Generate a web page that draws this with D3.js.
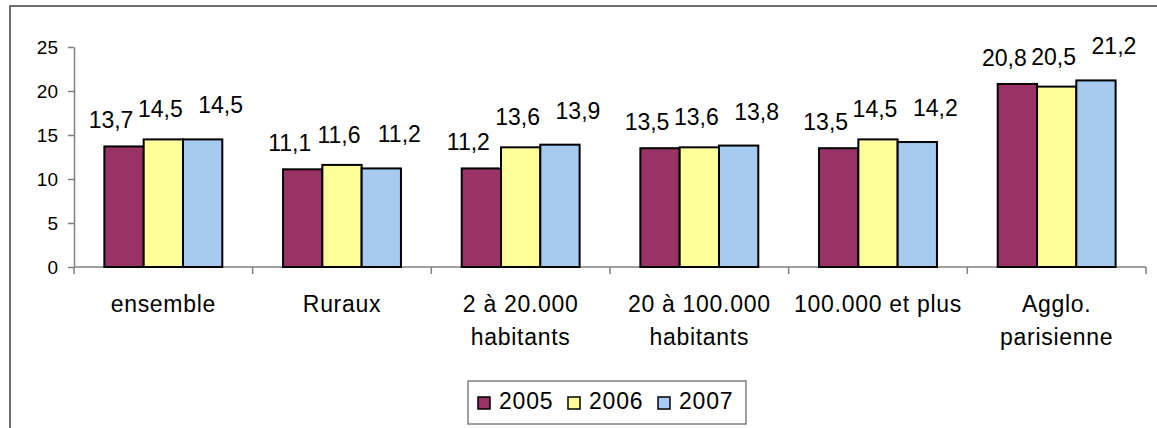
<!DOCTYPE html>
<html>
<head>
<meta charset="utf-8">
<script src="https://cdn.jsdelivr.net/npm/d3@7"></script>
<style>
  body { margin: 0; background: #fff; }
  svg { display: block; font-family: "Liberation Sans", Arial, sans-serif; }
</style>
</head>
<body>
<svg id="chart" width="1157" height="428"></svg>
<script>
const categories = ['ensemble', 'Ruraux', '2 à 20.000\nhabitants', '20 à 100.000\nhabitants', '100.000 et plus', 'Agglo.\nparisienne'];
const years = ['2005', '2006', '2007'];
const v2005 = [13.7, 11.1, 11.2, 13.5, 13.5, 20.8];
const v2006 = [14.5, 11.6, 13.6, 13.6, 14.5, 20.5];
const v2007 = [14.5, 11.2, 13.9, 13.8, 14.2, 21.2];
const yTicks = [0, 5, 10, 15, 20, 25];

const series = [v2005, v2006, v2007];
const colors = ['#993366', '#FFFF99', '#A6CAF0'];
// label nudges per series (Excel placed them a bit off-centre)
const labelDx = [-13, -3, 18];
const labelDy = [-18, -22, -26];

const svg = d3.select('#chart');
const fmt = v => d3.format('.1f')(v).replace('.', ',');

// outer frame (runs off the right and bottom edges)
svg.append('rect')
  .attr('x', 10).attr('y', 6)
  .attr('width', 1200).attr('height', 460)
  .attr('fill', 'none')
  .attr('stroke', '#404040')
  .attr('stroke-width', 1.5);

const x = d3.scaleBand().domain(categories).range([74, 1146]);
const bw = x.bandwidth();
const xs = d3.scaleBand().domain(years).range([bw * 0.17, bw * 0.83]);
const y = d3.scaleLinear().domain([0, 25]).range([267, 47]);

// y axis
const yAxis = svg.append('g')
  .attr('transform', 'translate(74,0)')
  .call(d3.axisLeft(y).tickValues(yTicks).tickSize(6).tickSizeOuter(0).tickPadding(10));
yAxis.selectAll('path, line').attr('stroke', '#808080').attr('stroke-width', 1.5);
yAxis.selectAll('text').attr('font-size', 19).attr('fill', '#000').attr('font-family', '"Liberation Sans", Arial, sans-serif');

// x axis line + band ticks
svg.append('line')
  .attr('x1', x.range()[0]).attr('x2', x.range()[1])
  .attr('y1', y(0)).attr('y2', y(0))
  .attr('stroke', '#808080').attr('stroke-width', 1.5);
const edges = categories.map(c => x(c)).concat([x.range()[1]]);
svg.append('g').selectAll('line').data(edges).join('line')
  .attr('x1', d => d).attr('x2', d => d)
  .attr('y1', y(0)).attr('y2', y(0) + 7)
  .attr('stroke', '#808080').attr('stroke-width', 1.5);

// bars
const groups = svg.append('g').selectAll('g').data(categories).join('g')
  .attr('transform', c => `translate(${x(c)},0)`);

groups.selectAll('rect')
  .data((c, i) => series.map((s, k) => ({ k, v: s[i] })))
  .join('rect')
  .attr('x', d => xs(years[d.k]))
  .attr('y', d => y(d.v))
  .attr('width', xs.bandwidth())
  .attr('height', d => y(0) - y(d.v))
  .attr('fill', d => colors[d.k])
  .attr('stroke', '#000')
  .attr('stroke-width', 2);

groups.selectAll('text.val')
  .data((c, i) => series.map((s, k) => ({ k, v: s[i] })))
  .join('text')
  .attr('class', 'val')
  .attr('x', d => xs(years[d.k]) + xs.bandwidth() / 2 + labelDx[d.k])
  .attr('y', d => y(d.v) + labelDy[d.k])
  .attr('text-anchor', 'middle')
  .attr('font-size', 23)
  .text(d => fmt(d.v));

// category labels
groups.append('text')
  .attr('text-anchor', 'middle')
  .attr('font-size', 23)
  .attr('letter-spacing', 0.7)
  .selectAll('tspan')
  .data(c => c.split('\n'))
  .join('tspan')
  .attr('x', bw / 2)
  .attr('y', (d, i) => 312 + i * 33)
  .text(d => d);

// legend
const legend = svg.append('g');
legend.append('rect')
  .attr('x', 468).attr('y', 381).attr('width', 278).attr('height', 43)
  .attr('fill', '#fff').attr('stroke', '#808080').attr('stroke-width', 1.5);
const items = legend.selectAll('g').data(years).join('g')
  .attr('transform', (d, i) => `translate(${478 + i * 90},0)`);
items.append('rect')
  .attr('x', 0).attr('y', 397).attr('width', 12).attr('height', 12)
  .attr('fill', (d, i) => colors[i])
  .attr('stroke', '#000').attr('stroke-width', 1.5);
items.append('text')
  .attr('x', 21).attr('y', 409)
  .attr('font-size', 23)
  .attr('letter-spacing', 0.8)
  .text(d => d);
</script>
</body>
</html>
